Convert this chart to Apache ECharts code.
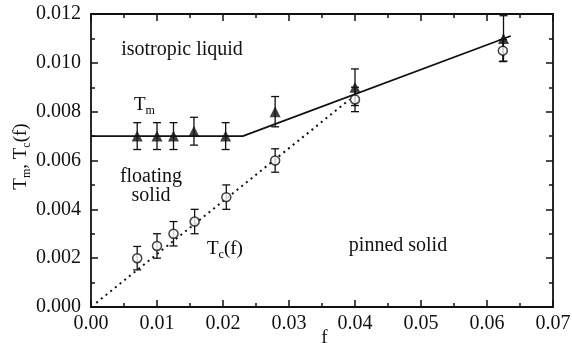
<!DOCTYPE html>
<html><head><meta charset="utf-8">
<script src="https://cdn.jsdelivr.net/npm/echarts@6/dist/echarts.min.js"></script>
<style>html,body{margin:0;padding:0;background:#fff}#c{width:572px;height:343px}</style>
</head><body><div id="c"></div>
<script>
// Melting temperature T_m (filled triangles)
const fTm    = [0.0070, 0.0100, 0.0125, 0.0156, 0.0204, 0.0279, 0.0400, 0.0625];
const Tm     = [0.0070, 0.0070, 0.0070, 0.0072, 0.0070, 0.0080, 0.0090, 0.0110];
const TmErr  = [0.00055, 0.00055, 0.00055, 0.00057, 0.00055, 0.00062, 0.00075, 0.00093];
// Pinning temperature T_c(f) (open circles)
const fTc    = [0.0070, 0.0100, 0.0125, 0.0157, 0.0205, 0.0279, 0.0400, 0.0624];
const Tc     = [0.0020, 0.0025, 0.0030, 0.0035, 0.0045, 0.0060, 0.0085, 0.0105];
const TcErr  = [0.00048, 0.0005, 0.0005, 0.0005, 0.0005, 0.00048, 0.0005, 0.00045];
// Guide lines
const meltLineF = [0, 0.0230, 0.0636];
const meltLineT = [0.0070, 0.0070, 0.0111];
const pinLineF  = [0.0008, 0.0392];
const pinLineT  = [0.00017, 0.0085];
// Tick labels
const xTickLabels = ['0.00','0.01','0.02','0.03','0.04','0.05','0.06','0.07'];
const yTickLabels = ['0.000','0.002','0.004','0.006','0.008','0.010','0.012'];

const FONT = "'Liberation Serif','DejaVu Serif','Times New Roman',serif";
const INK = '#111';
const xStep = 0.01, yStep = 0.002;

const zip = (a, b) => a.map((v, i) => [v, b[i]]);
const errData = (f, t, e) => f.map((v, i) => [v, t[i] - e[i], t[i] + e[i]]);

function errRender(params, api) {
  const x = api.value(0), lo = api.value(1), hi = api.value(2);
  const pLo = api.coord([x, lo]), pHi = api.coord([x, hi]);
  const w = 4;
  const style = { stroke: INK, lineWidth: 1.3, fill: null };
  return { type: 'group', children: [
    { type: 'line', shape: { x1: pLo[0], y1: pLo[1], x2: pHi[0], y2: pHi[1] }, style },
    { type: 'line', shape: { x1: pLo[0] - w, y1: pLo[1], x2: pLo[0] + w, y2: pLo[1] }, style },
    { type: 'line', shape: { x1: pHi[0] - w, y1: pHi[1], x2: pHi[0] + w, y2: pHi[1] }, style }
  ]};
}

const axisCommon = {
  type: 'value',
  axisLine: { show: true, onZero: false, lineStyle: { color: INK, width: 1.8 } },
  axisTick: { show: true, inside: true, length: 7, lineStyle: { color: INK, width: 1.5 } },
  minorTick: { show: true, splitNumber: 2, length: 4, lineStyle: { color: INK, width: 1.5 } },
  splitLine: { show: false },
  minorSplitLine: { show: false }
};

const rich = {
  a: { fontFamily: FONT, fontSize: 19, color: INK },
  s: { fontFamily: FONT, fontSize: 12, color: INK, padding: [11, 0, 0, 0] }
};

const chart = echarts.init(document.getElementById('c'), null, { renderer: 'canvas' });
chart.setOption({
  backgroundColor: '#fff',
  animation: false,
  grid: { left: 91, right: 19, top: 14, bottom: 36, containLabel: false, outerBoundsMode: 'none' },
  xAxis: [
    Object.assign({}, axisCommon, {
      position: 'bottom', min: 0, max: 0.07, interval: xStep,
      axisLabel: { show: true, margin: 7, color: INK, fontFamily: FONT, fontSize: 20,
        formatter: v => xTickLabels[Math.round(v / xStep)] },
      name: 'f', nameLocation: 'middle', nameGap: 22, nameMoveOverlap: false,
      nameTextStyle: { fontFamily: FONT, fontSize: 19, color: INK, padding: [0, 0, 0, 5] }
    }),
    Object.assign({}, axisCommon, {
      position: 'top', min: 0, max: 0.07, interval: xStep, axisLabel: { show: false }
    })
  ],
  yAxis: [
    Object.assign({}, axisCommon, {
      position: 'left', min: 0, max: 0.012, interval: yStep,
      axisLabel: { show: true, margin: 10, color: INK, fontFamily: FONT, fontSize: 20,
        formatter: v => yTickLabels[Math.round(v / yStep)] },
      name: '{a|T}{s|m}{a|, T}{s|c}{a|(f)}', nameLocation: 'middle', nameGap: 58, nameRotate: 90,
      nameMoveOverlap: false,
      nameTextStyle: { rich: rich, padding: [0, 0, 0, 8] }
    }),
    Object.assign({}, axisCommon, {
      position: 'right', min: 0, max: 0.012, interval: yStep, axisLabel: { show: false }
    })
  ],
  series: [
    { type: 'line', data: zip(meltLineF, meltLineT), symbol: 'none', silent: true,
      lineStyle: { color: INK, width: 1.8 } },
    { type: 'line', data: zip(pinLineF, pinLineT), symbol: 'none', silent: true,
      lineStyle: { color: INK, width: 2, type: [2, 4] } },
    { type: 'custom', renderItem: errRender, data: errData(fTm, Tm, TmErr),
      encode: { x: 0, y: [1, 2] }, z: 3 },
    { type: 'custom', renderItem: errRender, data: errData(fTc, Tc, TcErr),
      encode: { x: 0, y: [1, 2] }, z: 3 },
    { type: 'scatter', data: zip(fTc, Tc), symbol: 'circle', symbolSize: 9, z: 5,
      itemStyle: { color: '#fff', borderColor: INK, borderWidth: 1.5 } },
    { type: 'scatter', data: zip(fTm, Tm), symbol: 'triangle', symbolSize: 11, z: 6,
      itemStyle: { color: INK } }
  ],
  graphic: [
    { type: 'text', x: 182, y: 50, style: { text: 'isotropic liquid', font: '20px ' + FONT, fill: INK, align: 'center', verticalAlign: 'middle' } },
    { type: 'text', x: 134, y: 105, style: { text: '{a|T}{s|m}', rich: rich, align: 'left', verticalAlign: 'middle' } },
    { type: 'text', x: 151, y: 177, style: { text: 'floating', font: '20px ' + FONT, fill: INK, align: 'center', verticalAlign: 'middle' } },
    { type: 'text', x: 151, y: 196, style: { text: 'solid', font: '20px ' + FONT, fill: INK, align: 'center', verticalAlign: 'middle' } },
    { type: 'text', x: 207, y: 249, style: { text: '{a|T}{s|c}{a|(f)}', rich: rich, align: 'left', verticalAlign: 'middle' } },
    { type: 'text', x: 398, y: 246, style: { text: 'pinned solid', font: '20px ' + FONT, fill: INK, align: 'center', verticalAlign: 'middle' } }
  ]
});
</script>
</body></html>
